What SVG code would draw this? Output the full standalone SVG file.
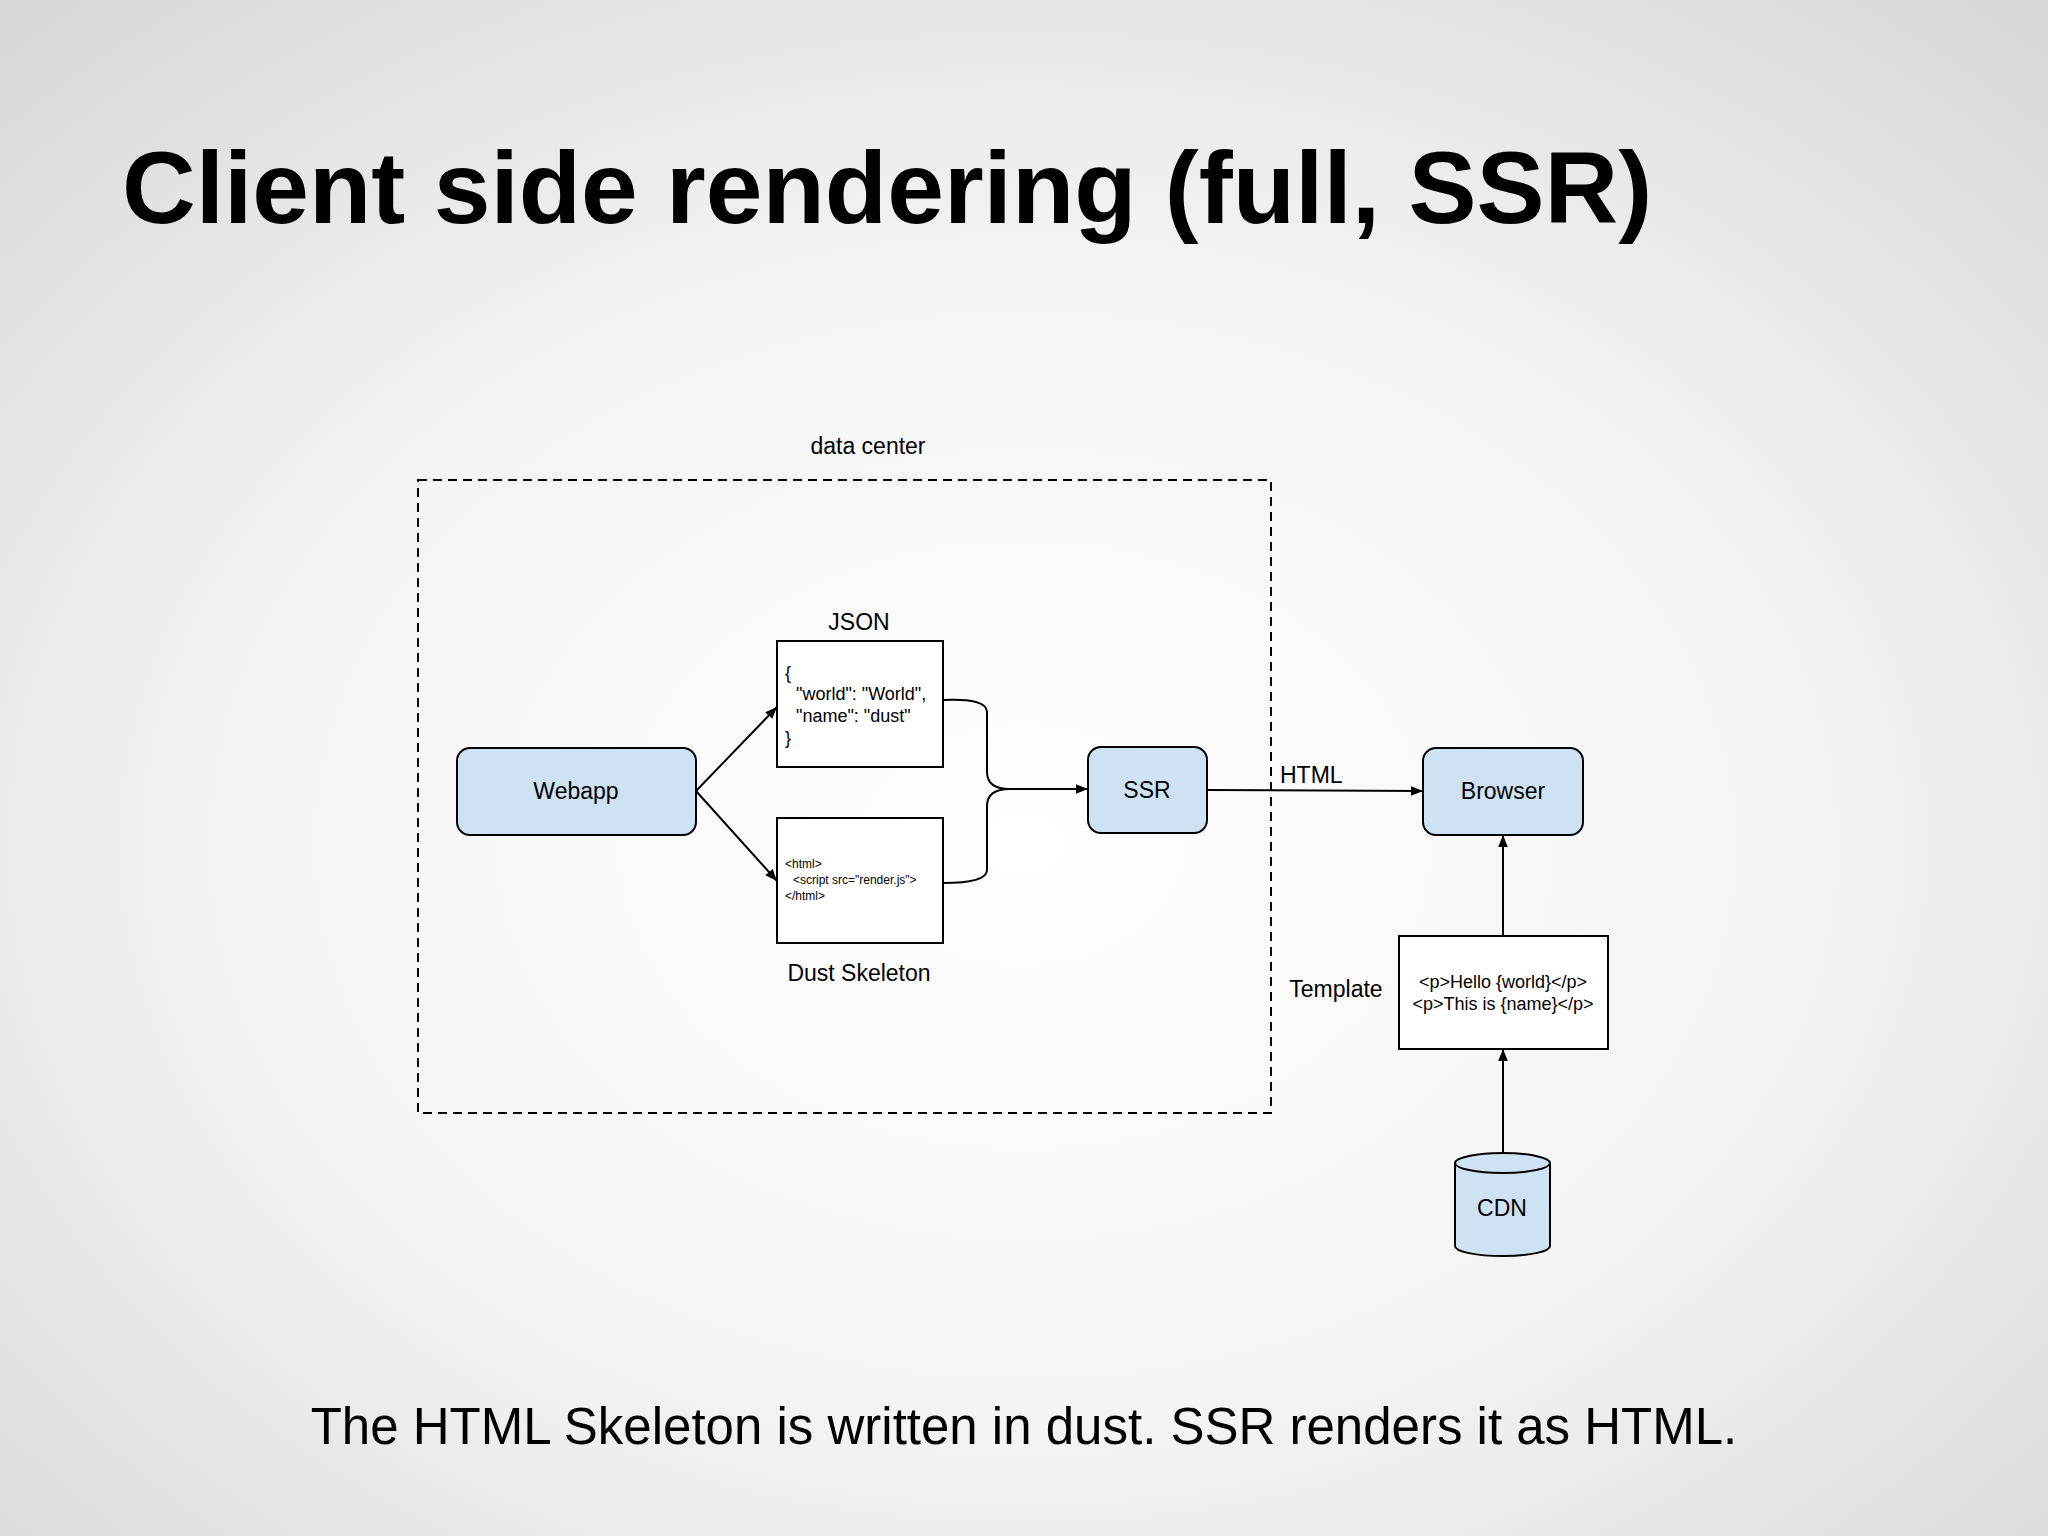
<svg xmlns="http://www.w3.org/2000/svg" width="2048" height="1536" viewBox="0 0 2048 1536">
<defs>
<radialGradient id="bg" cx="50%" cy="55%" r="75%">
<stop offset="0" stop-color="#ffffff"/><stop offset="0.5" stop-color="#f4f4f4"/><stop offset="1" stop-color="#d6d6d6"/>
</radialGradient>
<marker id="ah" viewBox="0 0 10 10" refX="10" refY="5" markerWidth="12" markerHeight="12" markerUnits="userSpaceOnUse" orient="auto"><path d="M0,1 L10,5 L0,9 z" fill="#000"/></marker>
</defs>
<style>
text{font-family:"Liberation Sans",Arial,sans-serif;fill:#000}
.node{fill:#cfe2f3;stroke:#000;stroke-width:2}
.box{fill:#fff;stroke:#000;stroke-width:2}
.lbl{font-size:23px;text-anchor:middle}
.c{fill:none;stroke:#000;stroke-width:2}
</style>
<rect width="2048" height="1536" fill="url(#bg)"/>
<text x="122" y="223" font-size="102" font-weight="bold">Client side rendering (full, SSR)</text>
<g id="datacenter">
<rect x="418" y="480" width="853" height="633" fill="none" stroke="#000" stroke-width="2" stroke-dasharray="9,6"/>
<text x="868" y="454" class="lbl" font-size="22">data center</text>
</g>
<g id="webapp"><rect x="457" y="748" width="239" height="87" rx="13" class="node"/><text x="576" y="799" class="lbl">Webapp</text></g>
<g id="json"><text x="859" y="630" class="lbl">JSON</text><rect x="777" y="641" width="166" height="126" class="box"/>
<text font-size="18"><tspan x="785" y="679">{</tspan><tspan x="796" y="700">"world": "World",</tspan><tspan x="796" y="722">"name": "dust"</tspan><tspan x="785" y="744">}</tspan></text></g>
<g id="skeleton"><rect x="777" y="818" width="166" height="125" class="box"/>
<text font-size="12"><tspan x="785" y="868">&lt;html&gt;</tspan><tspan x="793" y="884">&lt;script src="render.js"&gt;</tspan><tspan x="785" y="900">&lt;/html&gt;</tspan></text>
<text x="859" y="981" class="lbl">Dust Skeleton</text></g>
<g id="ssr"><rect x="1088" y="747" width="119" height="86" rx="13" class="node"/><text x="1147" y="798" class="lbl">SSR</text></g>
<g id="browser"><rect x="1423" y="748" width="160" height="87" rx="13" class="node"/><text x="1503" y="799" class="lbl">Browser</text></g>
<g id="template"><text x="1336" y="997" class="lbl">Template</text><rect x="1399" y="936" width="209" height="113" class="box"/>
<text font-size="18" text-anchor="middle"><tspan x="1503" y="988">&lt;p&gt;Hello {world}&lt;/p&gt;</tspan><tspan x="1503" y="1010">&lt;p&gt;This is {name}&lt;/p&gt;</tspan></text></g>
<g id="cdn"><path d="M1455,1163 V1246 A47,10 0 0 0 1550,1246 V1163" class="node"/><ellipse cx="1502.5" cy="1163" rx="47.5" ry="10" class="node"/><text x="1502" y="1216" class="lbl" font-size="18">CDN</text></g>
<g id="connectors">
<path d="M696,791 L777,707" class="c" marker-end="url(#ah)"/>
<path d="M696,791 L777,881" class="c" marker-end="url(#ah)"/>
<path d="M943,700 Q987,698 987,712 V772 Q987,789 1010,789 H1088" class="c" marker-end="url(#ah)"/>
<path d="M943,883 Q987,883 987,870 V806 Q987,789 1010,789" class="c"/>
<path d="M1207,790 L1423,791" class="c" marker-end="url(#ah)"/>
<text x="1280" y="783" font-size="23">HTML</text>
<path d="M1503,936 V835" class="c" marker-end="url(#ah)"/>
<path d="M1503,1153 V1049" class="c" marker-end="url(#ah)"/>
</g>
<text x="1024" y="1444" font-size="51" text-anchor="middle">The HTML Skeleton is written in dust. SSR renders it as HTML.</text>
</svg>
